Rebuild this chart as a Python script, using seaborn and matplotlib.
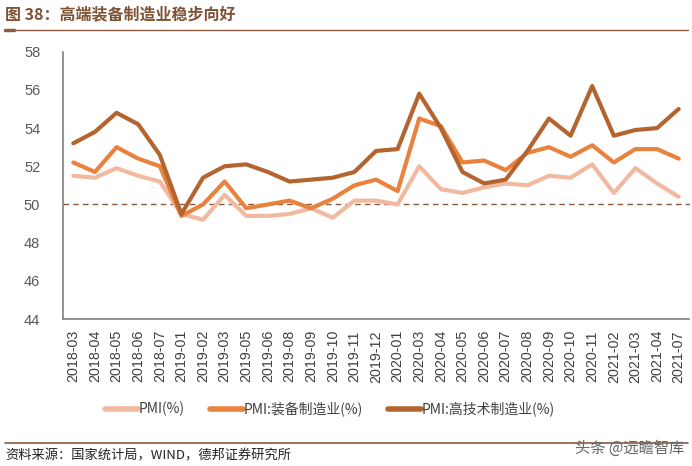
import numpy as np
import pandas as pd
import matplotlib
matplotlib.use("Agg")
import matplotlib.pyplot as plt
import seaborn as sns
from matplotlib.lines import Line2D

months = ["2018-03", "2018-04", "2018-05", "2018-06", "2018-07", "2019-01", "2019-02",
          "2019-03", "2019-05", "2019-06", "2019-08", "2019-09", "2019-10", "2019-11",
          "2019-12", "2020-01", "2020-03", "2020-04", "2020-05", "2020-06", "2020-07",
          "2020-08", "2020-09", "2020-10", "2020-11", "2021-02", "2021-03", "2021-04",
          "2021-07"]
pmi = [51.5, 51.4, 51.9, 51.5, 51.2, 49.5, 49.2, 50.5, 49.4, 49.4, 49.5, 49.8, 49.3,
       50.2, 50.2, 50.0, 52.0, 50.8, 50.6, 50.9, 51.1, 51.0, 51.5, 51.4, 52.1, 50.6,
       51.9, 51.1, 50.4]
equip = [52.2, 51.7, 53.0, 52.4, 52.0, 49.4, 50.0, 51.2, 49.8, 50.0, 50.2, 49.8, 50.3,
         51.0, 51.3, 50.7, 54.5, 54.1, 52.2, 52.3, 51.8, 52.7, 53.0, 52.5, 53.1, 52.2,
         52.9, 52.9, 52.4]
hightech = [53.2, 53.8, 54.8, 54.2, 52.6, 49.5, 51.4, 52.0, 52.1, 51.7, 51.2, 51.3,
            51.4, 51.7, 52.8, 52.9, 55.8, 54.0, 51.7, 51.1, 51.3, 52.8, 54.5, 53.6,
            56.2, 53.6, 53.9, 54.0, 55.0]
series_names = ["PMI(%)", "PMI:装备制造业(%)", "PMI:高技术制造业(%)"]
colors = ["#F2B9A1", "#E8823D", "#B4652F"]
yticks = [44, 46, 48, 50, 52, 54, 56, 58]

sns.set_theme(style="white")
plt.rcParams['font.family'] = ['Noto Sans CJK SC', 'DejaVu Sans']

rows = []
for name, vals in zip(series_names, [pmi, equip, hightech]):
    for i, (m, v) in enumerate(zip(months, vals)):
        rows.append({"idx": i, "month": m, "value": v, "series": name})
df = pd.DataFrame(rows)

fig = plt.figure(figsize=(6.92, 4.66), dpi=100)
ax = fig.add_axes([62.5 / 692, 1 - 319 / 466, (689.5 - 62.5) / 692, (319 - 51.7) / 466])

sns.lineplot(data=df, x="idx", y="value", hue="series", hue_order=series_names,
             palette=colors, linewidth=3.0, ax=ax, legend=False, sort=False)

ax.axhline(50, color="#8B5A3C", linewidth=1.0, linestyle=(0, (4, 3)), zorder=0)

ax.set_xlim(-0.5, len(months) - 0.5)
ax.set_ylim(44, 58)
ax.set_yticks(yticks)
ax.set_yticklabels([str(t) for t in yticks], fontsize=10.5, color="#595959",
                   family=['Liberation Sans'])
ax.set_xticks(range(len(months)))
ax.set_xticklabels(months, rotation=90, fontsize=10.3, color="#404040",
                   family=['Liberation Sans'])
ax.tick_params(axis='both', length=0, pad=8)
ax.tick_params(axis='y', pad=16)
ax.set_xlabel("")
ax.set_ylabel("")
for s in ["top", "right"]:
    ax.spines[s].set_visible(False)
ax.spines["left"].set_color("#808080")
ax.spines["bottom"].set_color("#808080")
ax.spines["left"].set_linewidth(1.2)
ax.spines["bottom"].set_linewidth(1.2)

handles = [Line2D([0], [0], color=c, linewidth=4) for c in colors]
fig.legend(handles, series_names, loc="center", bbox_to_anchor=(330 / 692, 1 - 409 / 466),
           ncol=3, frameon=False, fontsize=10, handlelength=2.4, handletextpad=0.05,
           columnspacing=1.8, labelcolor="#404040")

fig.text(5 / 692, 1 - 14 / 466, "图 38：高端装备制造业稳步向好", fontsize=11.5,
         fontweight="bold", color="#7E5234", va="center", ha="left")
fig.add_artist(Line2D([5 / 692, 688 / 692], [1 - 30 / 466, 1 - 30 / 466],
                      color="#8B5A3C", linewidth=1.0))
fig.add_artist(Line2D([5 / 692, 14 / 692], [1 - 30 / 466, 1 - 30 / 466],
                      color="#8B5A3C", linewidth=2.5))
fig.add_artist(Line2D([5 / 692, 688 / 692], [1 - 443 / 466, 1 - 443 / 466],
                      color="#8B5A3C", linewidth=1.2))
fig.text(5 / 692, 1 - 456 / 466, "资料来源：国家统计局，WIND，德邦证券研究所", fontsize=9.5,
         color="#222222", va="center", ha="left")
fig.text(684 / 692, 1 - 448 / 466, "头条 @远瞻智库", fontsize=11, color="#666666",
         va="center", ha="right")

fig.savefig("out.png", dpi=100)
